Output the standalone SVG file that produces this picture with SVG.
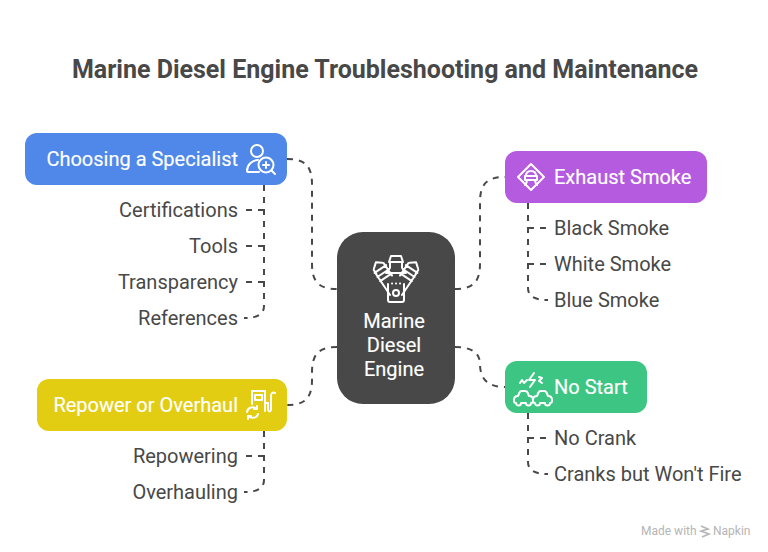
<svg xmlns="http://www.w3.org/2000/svg" width="768" height="552" viewBox="0 0 768 552">
<defs>
<g id="cyl"><path d="M-5 2L0 -2L5 2M-6 3V8M6 3V18M-7 6H7M-7 11H7M-7 16H7M-6.500 8V33"/></g>
<g id="car"><path d="M4 5L5.500 1.500Q6 0 8 0H11Q13 0 13.500 1.500L15 5M4 5Q0 5 0 9V10Q0 12 2 12M15 5Q19 5 19 9V10Q19 12 17 12M2 12A2.500 2.500 0 0 0 7 12H12A2.500 2.500 0 0 0 17 12"/></g>
</defs>
<style>
text{font-family:Roboto,"Liberation Sans",sans-serif}
.t{font-size:20px;fill:#484848}
.n{font-size:20px;fill:#fff;stroke:#fff;stroke-width:.15px}
.c{fill:none;stroke:#484848;stroke-width:2;stroke-dasharray:6 6;stroke-linecap:butt}
.i{fill:none;stroke:#fff;stroke-width:2;stroke-linecap:round;stroke-linejoin:round}
.e{text-anchor:end}
.m{text-anchor:middle}
</style>
<rect width="768" height="552" fill="#fff"/>
<text id="title" x="385" y="77.500" class="m" style="font-size:25px;font-weight:700;fill:#484848">Marine Diesel Engine Troubleshooting and Maintenance</text>
<g id="connectors">
<path class="c" d="M287 159C305 159 312 166 312 184V264C312 282 319 289 337 289"/>
<path class="c" d="M455 289C473 289 480 282 480 264V202C480 184 487 177 505 177"/>
<path class="c" d="M455 347C473 347 480 354 480 364C480 378 487 387 505 387"/>
<path class="c" d="M337 347C319 347 312 354 312 372V380C312 398 305 405 287 405"/>
<path class="c" d="M264 185V306C264 314 258 318 244 318"/>
<path class="c" d="M264 210H244M264 246H244M264 282H244"/>
<path class="c" d="M528 203V288C528 296 534 300 548 300"/>
<path class="c" d="M528 228H548M528 264H548"/>
<path class="c" d="M528 413V462C528 470 534 474 548 474"/>
<path class="c" d="M528 438H548"/>
<path class="c" d="M264 431V480C264 488 258 492 244 492"/>
<path class="c" d="M264 456H244"/>
</g>
<g id="node-center">
<rect x="337" y="232" width="118" height="172" rx="26" fill="#484848"/>
<g class="i">
<path d="M389 262L391 256H401L403 262ZM390 262V268M402 262V268M390 268L386 273M402 268L406 273M386 273H406"/>
<path d="M388 284V300Q388 302 390 302H402Q404 302 404 300V284"/>
<circle cx="396" cy="293" r="3"/>
<path d="M392 283.500H392.100M396 283.500H396.100M400 283.500H400.100"/>
<use href="#cyl" transform="translate(377 264) rotate(-34)"/>
<use href="#cyl" transform="translate(415 264) scale(-1 1) rotate(-34)"/>
</g>
<text x="394" y="328" class="n m">Marine</text>
<text x="394" y="352" class="n m">Diesel</text>
<text x="394" y="376" class="n m">Engine</text>
</g>
<g id="node-specialist">
<rect x="25" y="133" width="262" height="52" rx="12" fill="#4f88e8"/>
<text x="238" y="166" class="n e">Choosing a Specialist</text>
<g class="i"><circle cx="257" cy="151" r="6"/><path d="M258 160C252 160 247 165 247 171Q247 172 249 172H259"/><circle cx="266" cy="165" r="7.500"/><path d="M271.500 170.500L275 174M266 162V168M263 165H269"/></g>
</g>
<g id="node-exhaust">
<rect x="505" y="151" width="202" height="52" rx="12" fill="#b55be0"/>
<text x="554" y="184" class="n">Exhaust Smoke</text>
<g class="i"><path d="M531 164L544 177L531 190L518 177Z"/><path d="M526 176C526 172 528 171 531 171C534 171 536 172 536 176ZM525 176V180H537V176M527 180C527 183 526 184 525 185M535 180C535 183 536 184 537 185"/></g>
</g>
<g id="node-nostart">
<rect x="505" y="361" width="142" height="52" rx="12" fill="#3cc583"/>
<text x="554" y="394" class="n">No Start</text>
<g class="i"><path d="M534 373L529 380H535L530 387M520 383L522 380L524 383L527 380M539 377L542 378L539 381L542 383"/><use href="#car" transform="translate(514 391)"/><use href="#car" transform="translate(533 391)"/></g>
</g>
<g id="node-repower">
<rect x="37" y="379" width="250" height="52" rx="12" fill="#e2cd12"/>
<text x="238" y="412" class="n e">Repower or Overhaul</text>
<g class="i"><path d="M252 404V391H265V411M255 395H262V400H255ZM265 403H268V409C268 412 270 412 271 410L271 396C271 393 273 392 275 393"/><path d="M247 412C248 407 253 406 257 409M258 414C257 418 252 419 248 416M257 406V409H254M248 419V416H251"/></g>
</g>
<g id="leaves">
<text x="238" y="217" class="t e">Certifications</text>
<text x="238" y="253" class="t e">Tools</text>
<text x="238" y="289" class="t e">Transparency</text>
<text x="238" y="325" class="t e">References</text>
<text x="554" y="235" class="t">Black Smoke</text>
<text x="554" y="271" class="t">White Smoke</text>
<text x="554" y="307" class="t">Blue Smoke</text>
<text x="554" y="445" class="t">No Crank</text>
<text x="554" y="481" class="t">Cranks but Won't Fire</text>
<text x="238" y="463" class="t e">Repowering</text>
<text x="238" y="499" class="t e">Overhauling</text>
</g>
<g id="watermark">
<text x="641" y="535" style="font-size:12px;fill:#b5b5b5">Made with</text>
<path d="M701 526L708 529L701 531L709 534L702 537" fill="none" stroke="#b5b5b5" stroke-width="1.600"/>
<text x="713" y="535" style="font-size:12px;fill:#b5b5b5">Napkin</text>
</g>
</svg>
